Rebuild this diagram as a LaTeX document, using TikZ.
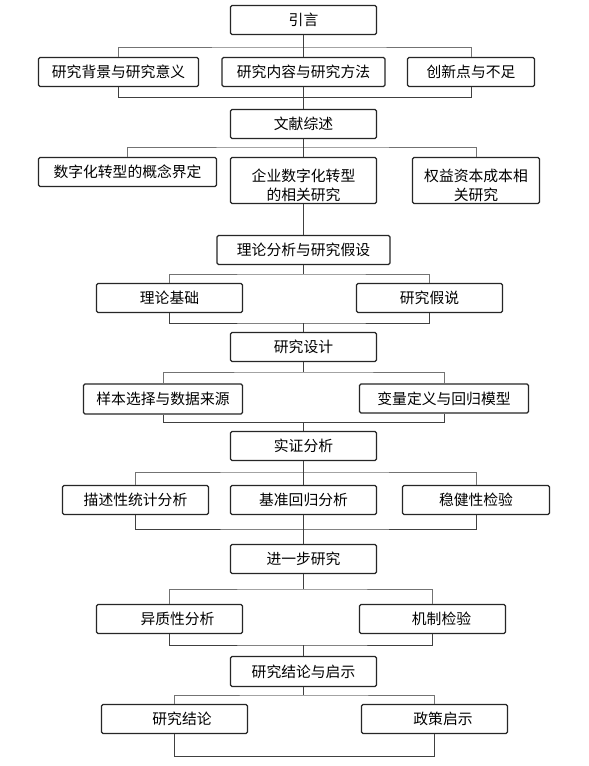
\documentclass[tikz,border=0pt]{standalone}
\usepackage{fontspec}
\newfontfamily\cjk{Noto Sans CJK SC}
\newcommand\twol[2]{\vbox{\vskip10pt\halign{\hfil##\hfil\cr #1\cr #2\cr}}}
\begin{document}
\begin{tikzpicture}[x=1pt,y=-1pt,
  bx/.style={draw=black!85, line width=1.3pt, rounded corners=1.5pt, inner sep=0pt,
    minimum height=29pt, font=\cjk\fontsize{14.8}{19.5}\selectfont, fill=white},
  busline/.style={draw=black!55, line width=0.8pt},
  brkline/.style={draw=black!75, line width=1pt},
  midline/.style={draw=black!75, line width=1pt}]
\fill[white] (0,0) rectangle (589,766);
\useasboundingbox (0,0) rectangle (589,766);

% boxes
\node[bx, minimum width=146pt] (intro) at (303.5,20) {引言};
\node[bx, minimum width=160pt] (bg) at (118.5,72) {研究背景与研究意义};
\node[bx, minimum width=163pt] (content) at (303.5,72) {研究内容与研究方法};
\node[bx, minimum width=127pt] (innov) at (471,72) {创新点与不足};
\node[bx, minimum width=146pt] (lit) at (303.5,124) {文献综述};
\node[bx, minimum width=178pt] (def) at (127.5,172) {数字化转型的概念界定};
\node[bx, minimum width=146pt, minimum height=46pt] (rel) at (303.5,180.5) {\twol{企业数字化转型}{的相关研究}};
\node[bx, minimum width=127pt, minimum height=46pt] (cost) at (476,180.5) {\twol{权益资本成本相}{关研究}};
\node[bx, minimum width=173pt] (theory) at (303.5,250) {理论分析与研究假设};
\node[bx, minimum width=146pt] (basis) at (169.5,298) {理论基础};
\node[bx, minimum width=146pt] (hyp) at (429.5,298) {研究假说};
\node[bx, minimum width=146pt] (design) at (303.5,347) {研究设计};
\node[bx, minimum width=159pt, minimum height=30pt] (sample) at (163,399) {样本选择与数据来源};
\node[bx, minimum width=169pt] (var) at (444,398.5) {变量定义与回归模型};
\node[bx, minimum width=146pt] (emp) at (303.5,446) {实证分析};
\node[bx, minimum width=146pt] (desc) at (135.5,500) {描述性统计分析};
\node[bx, minimum width=146pt] (base) at (303.5,500) {基准回归分析};
\node[bx, minimum width=147pt] (robust) at (476,500) {稳健性检验};
\node[bx, minimum width=146pt] (further) at (303.5,559) {进一步研究};
\node[bx, minimum width=146pt] (het) at (169.5,619) {\hspace*{16pt}异质性分析};
\node[bx, minimum width=146pt] (mech) at (432.5,619) {\hspace*{18pt}机制检验};
\node[bx, minimum width=146pt, minimum height=30pt] (concl) at (303.5,671.5) {研究结论与启示};
\node[bx, minimum width=146pt] (res) at (174.5,719) {\hspace*{15pt}研究结论};
\node[bx, minimum width=146pt] (pol) at (434.5,719) {\hspace*{17pt}政策启示};

% bus and bracket coordinates
\coordinate (b1) at (303.5,47);   \coordinate (c1) at (303.5,97.5);
\coordinate (b2) at (303.5,147);
\coordinate (b3) at (303.5,274);  \coordinate (c3) at (303.5,323);
\coordinate (b4) at (303.5,372);  \coordinate (c4) at (303.5,422.5);
\coordinate (b5) at (303.5,472);  \coordinate (c5) at (303.5,529);
\coordinate (b6) at (303.5,589);  \coordinate (c6) at (303.5,645);
\coordinate (b7) at (303.5,695);  \coordinate (c7) at (303.5,756);

% row 1
\draw[busline] (bg.north) |- (b1) -| (innov.north);
\draw[brkline] (bg.south) |- (c1) -| (innov.south);
\draw[midline] (intro.south) -- (content.north);
\draw[midline] (content.south) -- (lit.north);
% row 2
\draw[busline] (def.north) |- (b2) -| (cost.north);
\draw[midline] (lit.south) -- (rel.north);
\draw[midline] (rel.south) -- (theory.north);
% row 3
\draw[midline] (theory.south) -- (b3);
\draw[busline] (basis.north) |- (b3) -| (hyp.north);
\draw[brkline] (basis.south) |- (c3) -| (hyp.south);
\draw[midline] (c3) -- (design.north);
% row 4
\draw[midline] (design.south) -- (b4);
\draw[busline] (sample.north) |- (b4) -| (var.north);
\draw[brkline] (sample.south) |- (c4) -| (var.south);
\draw[midline] (c4) -- (emp.north);
% row 5
\draw[busline] (desc.north) |- (b5) -| (robust.north);
\draw[midline] (emp.south) -- (base.north);
\draw[brkline] (desc.south) |- (c5) -| (robust.south);
\draw[midline] (base.south) -- (further.north);
% row 6
\draw[midline] (further.south) -- (b6);
\draw[busline] (het.north) |- (b6) -| (mech.north);
\draw[brkline] (het.south) |- (c6) -| (mech.south);
\draw[midline] (c6) -- (concl.north);
% row 7
\draw[midline] (concl.south) -- (b7);
\draw[busline] (res.north) |- (b7) -| (pol.north);
\draw[brkline] (res.south) |- (c7) -| (pol.south);
\end{tikzpicture}
\end{document}
